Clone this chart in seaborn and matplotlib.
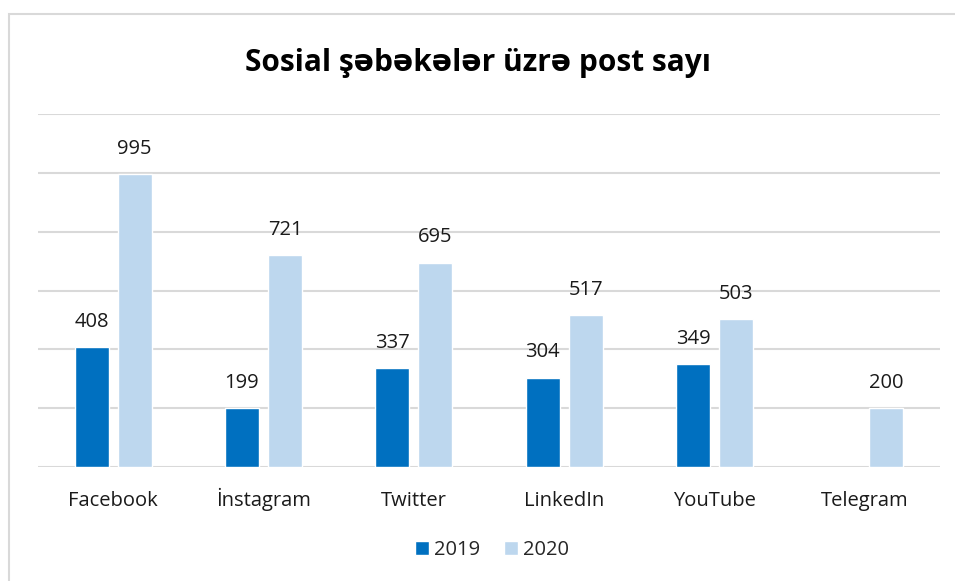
import numpy as np
import matplotlib
matplotlib.use('Agg')
import matplotlib.pyplot as plt
from matplotlib.patches import Rectangle
import pandas as pd
import seaborn as sns

# data
platforms = ['Facebook', 'İnstagram', 'Twitter', 'LinkedIn', 'YouTube', 'Telegram']
posts_2019 = [408, 199, 337, 304, 349, np.nan]
posts_2020 = [995, 721, 695, 517, 503, 200]
years = ['2019', '2020']
colors = ['#0070C0', '#BDD7EE']
title = 'Sosial şəbəkələr üzrə post sayı'

df = pd.DataFrame({
    'platform': platforms * 2,
    'year': [years[0]] * len(platforms) + [years[1]] * len(platforms),
    'posts': posts_2019 + posts_2020,
})

sns.set_theme(style='white')
plt.rcParams['font.family'] = ['Open Sans', 'DejaVu Sans']

fig = plt.figure(figsize=(9.55, 5.81), dpi=100)
ax = fig.add_axes([38/955, 1-467/581, (940-38)/955, (467-114)/581])

sns.barplot(data=df, x='platform', y='posts', hue='year', order=platforms,
            hue_order=years, palette=colors, width=0.573, gap=0.21,
            errorbar=None, saturation=1, ax=ax)

for cont in ax.containers:
    labels = ['' if np.isnan(v) else f'{v:.0f}' for v in cont.datavalues]
    ax.bar_label(cont, labels=labels, padding=11, fontsize=14.5, color='#1a1a1a')

ax.set_ylim(0, 1200)
ax.set_yticks(range(0, 1201, 200))
ax.set_yticklabels([])
ax.yaxis.grid(True, color='#D9D9D9', linewidth=1.5)
ax.set_axisbelow(True)
for s in ax.spines.values():
    s.set_visible(False)
ax.tick_params(axis='x', length=0, pad=28, labelsize=14.5, labelcolor='#1a1a1a')
for lbl in ax.get_xticklabels():
    lbl.set_verticalalignment('baseline')
ax.tick_params(axis='y', length=0)
ax.set_xlabel('')
ax.set_ylabel('')

ax.legend(loc='center', bbox_to_anchor=(0.515, 0.053), bbox_transform=fig.transFigure,
          ncol=2, frameon=False, fontsize=14.5, handlelength=0.7, handleheight=0.7,
          handletextpad=0.25, columnspacing=1.2)

fig.text(0.5, 1-63/581, title, ha='center', va='center', fontsize=21.5,
         fontweight='bold', color='black')

fig.patches.append(Rectangle((9/955, -0.5), 2, 1.5 - 14/581, transform=fig.transFigure,
                             fill=False, edgecolor='#D9D9D9', linewidth=1.5))

fig.savefig('out.png', dpi=100)
